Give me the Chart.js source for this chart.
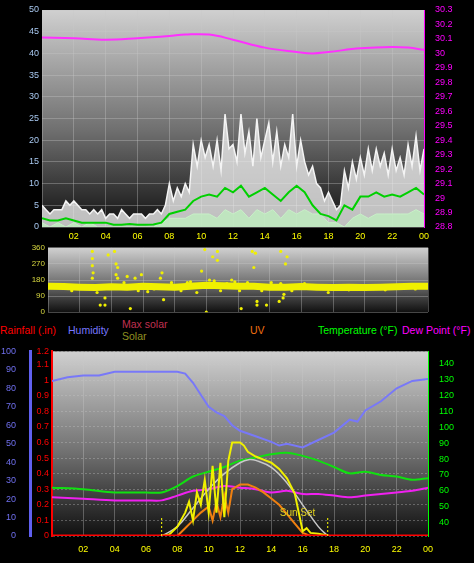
<!DOCTYPE html>
<html><head><meta charset="utf-8">
<script src="https://cdn.jsdelivr.net/npm/chart.js@4"></script>
<style>
body{margin:0;background:#000;width:474px;height:563px;overflow:hidden;position:relative;font-family:"Liberation Sans",sans-serif}
.p{position:absolute}
.t{position:absolute;font-size:10.5px;white-space:nowrap;line-height:12px}
</style></head><body>
<div class="t" style="left:36px;top:-2px;color:#fff;font-size:11.5px">Windspeed (mph)</div>
<div class="t" style="left:176px;top:-2px;color:#ff0;font-size:11.5px">24 hour graph day : November 13 2025</div>
<div class="t" style="left:378px;top:-2px;color:#f0f;font-size:11.5px">Barometer (.in)</div>
<div class="t" style="left:0;top:324px;color:#f00">Rainfall (.in)</div>
<div class="t" style="left:68px;top:324px;color:#77f">Humidity</div>
<div class="t" style="left:122px;top:318px;color:#c03050">Max solar</div>
<div class="t" style="left:122px;top:330px;color:#909020">Solar</div>
<div class="t" style="left:250px;top:324px;color:#f07010">UV</div>
<div class="t" style="left:318px;top:324px;color:#0f0">Temperature (°F)</div>
<div class="t" style="left:402px;top:324px;color:#f0f">Dew Point (°F)</div>
<div class="t" style="left:441px;top:240px;color:#ff0;font-size:12px">N</div>
<div class="t" style="left:441px;top:258px;color:#ff0;font-size:12px">W</div>
<div class="t" style="left:442px;top:277px;color:#ff0;font-size:12px">S</div>
<div class="t" style="left:442px;top:293px;color:#ff0;font-size:12px">E</div>
<div class="t" style="left:441px;top:308px;color:#ff0;font-size:12px">N</div>
<div class="p" style="left:0;top:0;width:474px;height:245px"><canvas id="c1"></canvas></div>
<div class="p" style="left:0;top:240px;width:474px;height:80px"><canvas id="c2"></canvas></div>
<div class="p" style="left:0;top:340px;width:474px;height:223px"><canvas id="c3"></canvas></div>
<script>
// ---- data ----
const gustHours = Array.from({length:97},(_, i)=>i/4);
const gust = [5,4,3,4,4,4,6,5,6, 5,4,4,3,4,3,4,2, 3,3,2,4,3,2,3,3, 3,2,3,3,4,3,5,10,
 6,9,7,10,8,19,14,20, 16,19,14,20,13,26,18,19, 15,26,17,22,14,25,16,20, 24,15,22,14,19,16,26,14,
 20,15,12,14,10,9,6,8, 6,4,5,13,9,15,11,16, 12,18,13,18,14,17,12,18, 13,16,12,19,14,21,13,18];
const halfHours = Array.from({length:49},(_, i)=>i/2);
const avgWind = [2,1.5,1.5,2,1.5,1,1,1,1,0.5,0.5,0.7,0.5,0.5,0.6,1,3,3.5,4,6,7,7.5,7,9,8,9.5,7,8,9,7.5,6,8,9.5,8,5,3,2.5,1.5,5,4,7,7,8,7,7.5,7,8,9,7.5];
const lull = [1,0,1,0,1,0,1,0,0,0,0,0,0,0,0,1,2,2,2,3,3,3,2,4,3,4,2,4,3,4,2,4,3,4,3,3,1,1,0,2,3,2,3,3,3,3,3,4,3];
const baroHours = [0,2,4,6,8,9,10.5,12,14,16,17,18,20,22,23,24];
const baro = [30.11,30.105,30.095,30.105,30.12,30.13,30.13,30.095,30.04,30.01,30.0,30.01,30.035,30.045,30.04,30.025];
const dirHours = Array.from({length:25},(_, i)=>i);
const dirMain = [145,143,140,138,142,140,145,142,140,145,150,148,145,145,140,140,143,140,138,140,138,140,142,145,145];
const dirOutliers = [[2.8,340],[2.8,300],[2.8,260],[2.85,220],[2.8,190],[3.6,80],[3.8,320],[3.3,40],[3.6,40],[4.2,340],[4.3,270],[4.4,250],[4.3,210],[4.4,190],[5.0,200],[5.5,190],[5.9,210],[5.2,20],[7.2,220],[7.3,70],[7.1,190],[9.7,230],[9.9,350],[10.0,0],[10.4,310],[10.7,340],[10.7,290],[10.2,180],[12.2,20],[12.9,340],[13.1,330],[13.0,250],[13.2,40],[13.2,60],[13.8,40],[14.7,340],[15.1,310],[15.0,270],[14.7,160],[14.85,80],[14.9,100],[14.6,60],[9.0,170],[8.4,120],[11.3,160],[11.8,170],[6.7,130],[13.5,120],[17.7,110],[21.3,125],[1.5,120],[6.3,115],[8.8,165],[10.5,175],[12.6,165],[16.2,160],[19,125],[23.2,130],[3.1,110],[4.8,165],[5.7,120],[7.8,165],[9.4,110],[10.9,120],[11.6,180],[12.1,120],[14.1,165],[15.4,120]];
const humHours = [0,1,2,3,4,5,6,7,8,8.5,9,10,10.5,11,11.5,12,13,14,14.5,15,16,17,18,19,19.5,20,21,22,23,24];
const humidity = [84,86,87,87,89,89,89,89,89,88,83,70,67,65,60,57,54,51,49,50,48,52,56,63,62,68,73,80,84,85];
const tHours = [0,2,4,6,7,8,9,10,11,12,13,14,15,16,17,18,19,20,21,22,23,24];
const temperature = [62,61,59,59,59,63,69,72,75,79,81,83,84,82,79,75,71,72,70,69,67,68];
const dewPoint = [56,55,54,54,54,57,60,61,63,62,61,59,60,58,58,57,56,57,58,59,60,62];
const solarHours = [7,7.5,8,8.5,8.75,9,9.25,9.5,9.75,10,10.25,10.5,10.75,11,11.25,11.5,11.75,12,12.25,12.5,13,13.5,14,14.5,15,15.5,15.75,16,16.25,16.5,17,17.5,17.6];
const solar = [0,10,60,150,220,100,280,200,360,150,450,150,470,120,480,600,600,600,580,540,510,490,470,430,370,270,150,30,50,20,15,5,0];
const maxSolarHours = [7,8,9,10,11,12,12.6,13,14,15,16,17,17.6];
const maxSolar = [0,60,180,300,400,470,490,485,440,340,200,60,0];
const uvHours = [8,8.5,9,9.5,10,10.25,10.5,10.75,11,11.25,11.5,12,12.5,13,13.5,14,14.5,15,15.5,16,16.5];
const uv = [0,0.5,1.0,1.5,1.9,1.0,2.2,1.2,2.6,1.5,3.0,3.3,3.3,3.1,2.8,2.4,2.0,1.4,0.8,0.2,0];
const rainHours = [0,24];
const rain = [0,0];
const sunEvents = [7.0,17.6];

const pts=(xs,ys)=>xs.map((x,i)=>({x,y:ys[i]}));
const hourLabel=v=>v===0?'':String(v%24).padStart(2,'0');
const F={family:'Liberation Sans',size:9};
const grid={color:'rgba(200,200,200,0.35)',drawTicks:false};
const bg={id:'bg',beforeDraw(c){const a=c.chartArea,x=c.ctx;x.save();x.fillStyle='#000';x.fillRect(0,0,c.width,c.height);
 const g=x.createLinearGradient(0,a.top,0,a.bottom);g.addColorStop(0,'#d0d0d0');g.addColorStop(0.55,'#707070');g.addColorStop(1,'#101010');
 x.fillStyle=g;x.fillRect(a.left,a.top,a.right-a.left,a.bottom-a.top);x.restore();}};
const fixW=w=>(s=>{s.width=w});
const fixH=h=>(s=>{s.height=h});
const xAxis=(show,h,pad)=>({type:'linear',min:0,max:24,afterFit:fixH(h),border:{display:false},grid:{...grid,drawOnChartArea:true},
 ticks:{display:show,stepSize:2,color:'#ff0',font:F,callback:hourLabel,padding:pad}});
const base={responsive:true,maintainAspectRatio:false,animation:false,plugins:{legend:{display:false},tooltip:{enabled:false}},elements:{point:{radius:0},line:{tension:0}}};
Chart.defaults.font.family='Liberation Sans';

new Chart(c1,{type:'line',plugins:[bg],data:{datasets:[
 {data:pts(gustHours,gust),borderColor:'#f4f4f4',borderWidth:1.5,backgroundColor:'rgba(235,235,235,0.8)',fill:'origin',order:3,yAxisID:'y'},
 {data:pts(halfHours,lull),borderColor:'#c8f0c8',borderWidth:1,backgroundColor:'rgba(190,235,190,0.85)',fill:'origin',order:2,yAxisID:'y'},
 {data:pts(halfHours,avgWind),borderColor:'#00d000',borderWidth:2,order:1,yAxisID:'y'},
 {data:pts(baroHours,baro),borderColor:'#ff30ff',borderWidth:2,tension:0.4,order:0,yAxisID:'yb'}]},
 options:{...base,layout:{padding:{top:10,left:0,right:0}},scales:{x:xAxis(true,18,4),
 y:{min:0,max:50,afterFit:fixW(42),border:{display:false},grid,ticks:{stepSize:5,color:'#a8c8f0',font:F}},
 yb:{position:'right',min:28.8,max:30.3,afterFit:fixW(50),border:{color:'#f0f',width:1},grid:{display:false},ticks:{stepSize:0.1,color:'#f0f',font:F,callback:v=>+v.toFixed(1)}}}}});

new Chart(c2,{type:'line',plugins:[bg],data:{datasets:[
 {data:pts(dirHours,dirMain),borderColor:'#f0f000',borderWidth:7,order:1},
 {type:'scatter',data:dirOutliers.map(d=>({x:d[0],y:d[1]})),backgroundColor:'#f0f000',borderWidth:0,pointRadius:1.6,order:0}]},
 options:{...base,layout:{padding:{top:7,right:46,bottom:4}},scales:{x:{...xAxis(false,0,0),ticks:{display:false,stepSize:2}},
 y:{min:0,max:360,afterFit:fixW(48),border:{display:false},grid,ticks:{stepSize:90,color:'#d8d840',font:{family:'Liberation Sans',size:8}}}}}});

const sunPlug={id:'sun',afterDatasetsDraw(c){const x=c.ctx,sx=c.scales.x,sy=c.scales.yr;x.save();x.strokeStyle='#ff0';x.setLineDash([2,2]);x.lineWidth=1;
 sunEvents.forEach(h=>{const px=sx.getPixelForValue(h);x.beginPath();x.moveTo(px,sy.getPixelForValue(0));x.lineTo(px,sy.getPixelForValue(0.12));x.stroke();});
 x.setLineDash([]);x.fillStyle='#e0d020';x.font='10px Liberation Sans';x.fillText('Sun Set',sx.getPixelForValue(sunEvents[1])-48,sy.getPixelForValue(0.13));x.restore();}};
new Chart(c3,{type:'line',plugins:[bg,sunPlug],data:{datasets:[
 {data:pts(humHours,humidity),borderColor:'#7878f8',borderWidth:2,yAxisID:'yh',order:5},
 {data:pts(tHours,temperature),borderColor:'#10e010',borderWidth:2,tension:0.3,yAxisID:'yt',order:4},
 {data:pts(tHours,dewPoint),borderColor:'#f020f0',borderWidth:2,tension:0.3,yAxisID:'yt',order:4},
 {data:pts(maxSolarHours,maxSolar),borderColor:'#c8c8c8',borderWidth:1.5,tension:0.4,yAxisID:'ys',order:3},
 {data:pts(uvHours,uv),borderColor:'#f08010',borderWidth:2,backgroundColor:'rgba(240,128,16,0.5)',yAxisID:'yu',order:2},
 {data:pts(solarHours,solar),borderColor:'#f0f000',borderWidth:2,yAxisID:'ys',order:1},
 {data:pts(rainHours,rain),borderColor:'#ff0000',borderWidth:3,yAxisID:'yr',order:0}]},
 options:{...base,layout:{padding:{top:7}},scales:{x:xAxis(true,27,8),
 yr:{position:'left',min:0,max:1.184,afterFit:fixW(22),border:{color:'#f00',width:2,dash:[2,2]},grid,ticks:{stepSize:0.1,color:'#f00',font:F,padding:3,callback:v=>+v.toFixed(1)}},
 yh:{position:'left',min:0,max:100,afterFit:fixW(30),border:{color:'#6060f0',width:3},grid:{display:false},ticks:{stepSize:10,color:'#7070f0',font:F,padding:6}},
 ys:{display:false,min:0,max:1184},
 yu:{display:false,min:0,max:11.84},
 yt:{position:'right',min:31.6,max:147.7,afterFit:fixW(46),border:{color:'#0f0',width:1},grid:{display:false},ticks:{stepSize:10,color:'#0f0',font:F,callback:v=>Math.round(v)%10===0&&v>=40?Math.round(v):''}}}}});
</script></body></html>
